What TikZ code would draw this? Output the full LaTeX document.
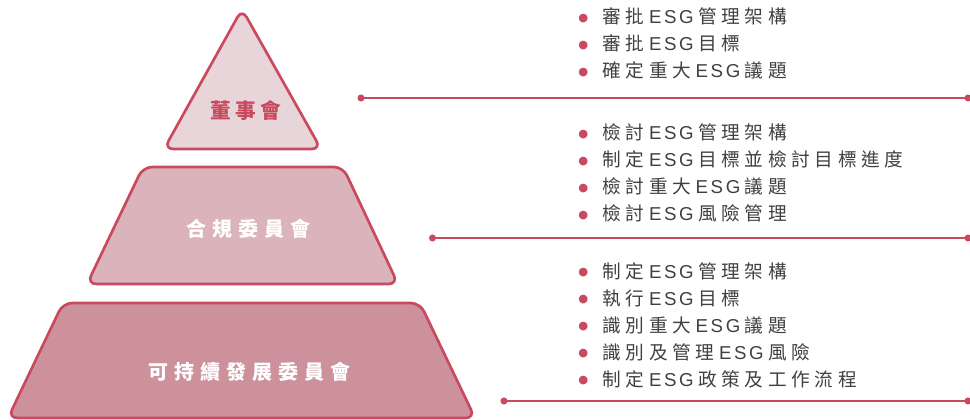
\documentclass[tikz,border=0pt]{standalone}
\usepackage{fontspec}
\setmainfont{Noto Sans CJK TC}[LetterSpace=25]
\newfontfamily\latinfont{Liberation Sans}[LetterSpace=14]
\newfontfamily\dotfont{DejaVu Sans}
\newfontfamily\titlefont{Noto Sans CJK TC}[LetterSpace=30]
\newfontfamily\boardfont{Noto Sans CJK TC}[LetterSpace=22]
\usetikzlibrary{arrows.meta}

\definecolor{edgeRed}{RGB}{201,74,94}
\definecolor{topFill}{RGB}{232,213,217}
\definecolor{midFill}{RGB}{219,179,187}
\definecolor{baseFill}{RGB}{205,145,156}
\definecolor{itemGray}{RGB}{64,64,64}

\newcommand{\ESG}{\hspace{3.3pt}{\latinfont ESG}\hspace{3.3pt}}
\newcommand{\dotitem}[1]{\makebox[17.5pt][l]{\makebox[6pt][c]{\raisebox{2pt}{\textcolor{edgeRed}{\dotfont\fontsize{8.5}{9}\selectfont ●}}}}#1}

\begin{document}
\begin{tikzpicture}[x=0.75pt,y=0.75pt,yscale=-1,xscale=1,
  level/.style={draw=edgeRed,line width=2pt,rounded corners=7pt},
  title/.style={font=\titlefont\bfseries\fontsize{15}{17}\selectfont,text=white},
  duties/.style={anchor=base west,inner sep=0pt,align=left,text=itemGray,
    font=\fontsize{14}{20.25}\selectfont},
  leader/.style={draw=edgeRed,line width=1.1pt,{Circle[length=5.2pt]}-{Circle[length=5.2pt]}}]
\useasboundingbox (0,0) rectangle (970,420);

%Shape: Triangle (top level)
\draw [level,fill=topFill] (242,9) -- (321,149) -- (164,149) -- cycle ;
%Shape: Trapezoid (middle level)
\draw [level,fill=midFill] (143,167) -- (343,167) -- (398,284) -- (87,284) -- cycle ;
%Shape: Trapezoid (bottom level)
\draw [level,fill=baseFill] (63,303) -- (420,303) -- (475,418) -- (8,418) -- cycle ;

% Text Node
\node (board) at (246,111) [text=edgeRed,font=\boardfont\bfseries\fontsize{15.5}{17}\selectfont] {董事會};
% Text Node
\node (compliance) at (248,229) [title] {合規委員會};
% Text Node
\node (sustain) at (249,372) [title] {可持續發展委員會};

% Text Node (last baseline)
\node (boardduty) at (579,78) [duties] {\dotitem{審批\ESG 管理架構}\\ \dotitem{審批\ESG 目標}\\ \dotitem{確定重大\ESG 議題}};
% Text Node (last baseline)
\node (complianceduty) at (579,221) [duties] {\dotitem{檢討\ESG 管理架構}\\ \dotitem{制定\ESG 目標並檢討目標進度}\\ \dotitem{檢討重大\ESG 議題}\\ \dotitem{檢討\ESG 風險管理}};
% Text Node (last baseline)
\node (sustainduty) at (579,386) [duties] {\dotitem{制定\ESG 管理架構}\\ \dotitem{執行\ESG 目標}\\ \dotitem{識別重大\ESG 議題}\\ \dotitem{識別及管理\ESG 風險}\\ \dotitem{制定\ESG 政策及工作流程}};

%Straight Lines
\coordinate (boardL) at (357.5,98) ;
\coordinate (boardR) at (971.5,98) ;
\draw [leader] (boardL) -- (boardR) ;
%Straight Lines
\coordinate (complianceL) at (429,238) ;
\coordinate (complianceR) at (971.5,238) ;
\draw [leader] (complianceL) -- (complianceR) ;
%Straight Lines
\coordinate (sustainL) at (500.5,401) ;
\coordinate (sustainR) at (971.5,401) ;
\draw [leader] (sustainL) -- (sustainR) ;

\end{tikzpicture}
\end{document}
